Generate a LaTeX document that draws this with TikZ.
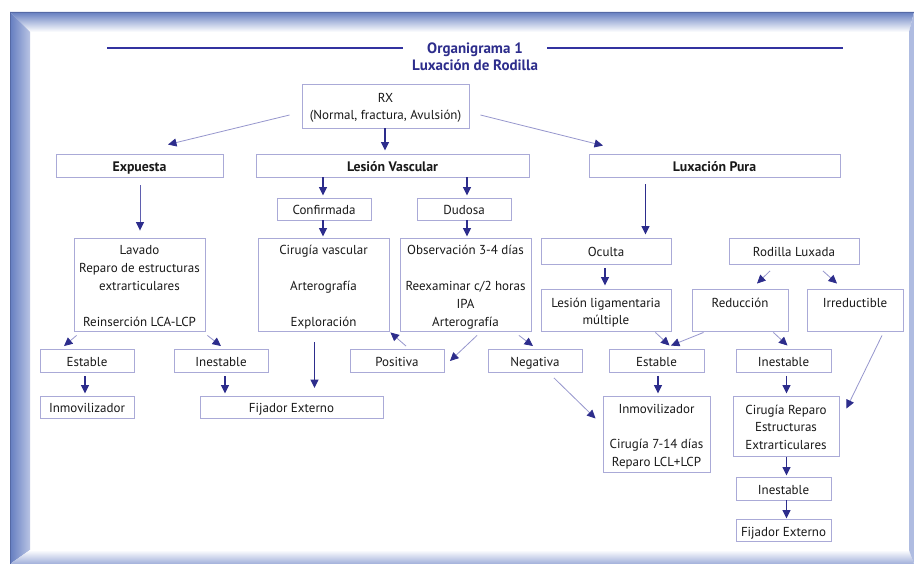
\documentclass[tikz,border=0pt]{standalone}
\usepackage{fontspec}
\setmainfont{PT Sans}
\usetikzlibrary{arrows.meta}
\definecolor{boxc}{RGB}{170,170,215}
\definecolor{dk}{RGB}{45,45,140}
\definecolor{lt}{RGB}{150,150,205}
\definecolor{md}{RGB}{95,95,175}
\definecolor{txt}{RGB}{25,25,25}
\definecolor{ttl}{RGB}{45,45,140}
\definecolor{ttlline}{RGB}{50,50,160}
\definecolor{frdark}{RGB}{100,125,192}
\definecolor{frmid}{RGB}{185,196,228}
\definecolor{frbot}{RGB}{160,175,218}
\definecolor{frright}{RGB}{175,188,225}
\definecolor{frline}{RGB}{85,105,165}
\newcommand\boxfont{\fontsize{13}{17.8}\selectfont}
\newcommand\boldfont{\fontsize{13.8}{17.8}\selectfont\bfseries}
\newcommand\toprl{\rule{0pt}{15.5pt}}
\newcommand\botrl{\rule[-3.5pt]{0pt}{0pt}}
\begin{document}
\begin{tikzpicture}[x=1pt,y=-1pt,
  bx/.style 2 args={draw=boxc, line width=0.9pt, inner sep=0pt, align=center,
     font=\boxfont, text=txt, minimum width=#1pt, minimum height=#2pt},
  bold/.style={font=\boldfont},
  tip/.style={-{Triangle[length=8.5pt,width=8pt,color=dk]}},
  dkarrow/.style={tip, draw=dk, line width=1.3pt},
  ltarrow/.style={tip, draw=lt, line width=0.8pt},
  mdarrow/.style={tip, draw=md, line width=0.8pt},
  ttlrule/.style={draw=ttlline, line width=1.2pt}]
\useasboundingbox (0,0) rectangle (914,564);
\fill[white] (0,0) rectangle (914,564);
% frame
\shade[top color=frdark, bottom color=white] (10,12) -- (914,12) -- (909,32) -- (30,32) -- cycle;
\shade[left color=frdark, right color=frmid] (10,12) -- (30,32) -- (30,550) -- (10,564) -- cycle;
\shade[top color=white, bottom color=frbot] (30,550) -- (909,550) -- (914,564) -- (10,564) -- cycle;
\fill[frright] (909,32) -- (914,12) -- (914,564) -- (909,550) -- cycle;
\draw[frline, line width=0.8pt] (10,564) -- (10,12) -- (914,12);
% title
\node[font=\fontsize{15}{17.5}\selectfont\bfseries, text=ttl, align=center, inner sep=0pt] (title) at (475,57) {Organigrama 1\\Luxación de Rodilla};
\coordinate (tl1) at (107,48);
\coordinate (tl2) at (403,48);
\coordinate (tr1) at (547,48);
\coordinate (tr2) at (843,48);
\draw[ttlrule] (tl1) -- (tl2);
\draw[ttlrule] (tr1) -- (tr2);
% nodes
\node[bx={167}{44}] (rx) at (385.5,106) {\toprl RX\\(Normal, fractura, Avulsión)\rule[-5.5pt]{0pt}{0pt}};
\node[bx={167}{23}, bold] (exp) at (139.5,165.5) {\toprl Expuesta\botrl};
\node[bx={273}{23}, bold] (lv) at (392.5,165.5) {\toprl Lesión Vascular\botrl};
\node[bx={251}{23}, bold] (lp) at (714.5,165.5) {\toprl Luxación Pura\botrl};
\node[bx={94}{22}] (conf) at (324,209) {\toprl Confirmada\botrl};
\node[bx={94}{22}] (dud) at (464,209) {\toprl Dudosa\botrl};
\node[bx={131}{93}] (lav) at (139.5,284.5) {\toprl Lavado\\Reparo de estructuras\\extrarticulares\\[17.8pt]Reinserción LCA-LCP\botrl};
\node[bx={131}{93}] (cv) at (323.5,284.5) {\toprl Cirugía vascular\\[17.8pt]Arterografía\\[17.8pt]Exploración\botrl};
\node[bx={131}{93}] (obs) at (465.5,284.5) {\toprl Observación 3-4 días\\[17.8pt]Reexaminar c/2 horas\\IPA\\Arterografía\botrl};
\node[bx={130}{26}] (ocu) at (606,251) {\toprl Oculta\botrl};
\node[bx={130}{26}] (rl) at (794,251) {\toprl Rodilla Luxada\botrl};
\node[bx={130}{42}] (lig) at (606,310) {\toprl Lesión ligamentaria\\múltiple\botrl};
\node[bx={96}{42}] (red) at (740,310) {\toprl Reducción\\\phantom{R}\botrl};
\node[bx={96}{42}] (irr) at (855,310) {\toprl Irreductible\\\phantom{R}\botrl};
\node[bx={94}{23}] (est1) at (87,360.5) {\toprl Estable\botrl};
\node[bx={94}{23}] (ine1) at (221,360.5) {\toprl Inestable\botrl};
\node[bx={94}{23}] (pos) at (397,360.5) {\toprl Positiva\botrl};
\node[bx={94}{23}] (neg) at (535,360.5) {\toprl Negativa\botrl};
\node[bx={95}{23}] (est2) at (656.5,360.5) {\toprl Estable\botrl};
\node[bx={95}{23}] (ine2) at (783.5,360.5) {\toprl Inestable\botrl};
\node[bx={94}{22}] (inm1) at (87,407) {\toprl Inmovilizador\botrl};
\node[bx={183}{22}] (fij1) at (291.5,407) {\toprl Fijador Externo\botrl};
\node[bx={107}{76}] (inm2) at (656.5,434) {\toprl Inmovilizador\\[17.8pt]Cirugía 7-14 días\\Reparo LCL+LCP\botrl};
\node[bx={106}{60}] (cir) at (786,426) {\toprl Cirugía Reparo\\Estructuras\\Extrarticulares\botrl};
\node[bx={95}{23}] (ine3) at (783.5,488.5) {\toprl Inestable\botrl};
\node[bx={95}{22}] (fij2) at (783.5,530) {\toprl Fijador Externo\botrl};
% connectors
\draw[ltarrow] ([shift={(-12,9)}]rx.west) -- ([shift={(28.5,-9)}]exp.north);
\draw[dkarrow] ([shift={(-0.5,0)}]rx.south) -- ([shift={(-7.5,-3)}]lv.north);
\draw[ltarrow] ([shift={(11,9)}]rx.east) -- ([shift={(-111.5,-8)}]lp.north);
\draw[dkarrow] ([shift={(-69.5,0)}]lv.south) -- ([shift={(-1,-2)}]conf.north);
\draw[dkarrow] ([shift={(74.5,0)}]lv.south) -- ([shift={(3,-2)}]dud.north);
\draw[mdarrow] ([shift={(0.5,8)}]exp.south) -- ([shift={(0.5,-7)}]lav.north);
\draw[dkarrow] ([shift={(-69,7)}]lp.south) -- ([shift={(39.5,-3)}]ocu.north);
\draw[dkarrow] ([shift={(-1,0)}]conf.south) -- ([shift={(-0.5,-1)}]cv.north);
\draw[dkarrow] ([shift={(3,0)}]dud.south) -- ([shift={(1.5,-1)}]obs.north);
\draw[dkarrow] ([shift={(-1,4)}]ocu.south) -- ([shift={(-1,-3)}]lig.north);
\draw[ltarrow] ([shift={(-24,6.5)}]rl.south) -- ([shift={(17,-5)}]red.north);
\draw[ltarrow] ([shift={(29,6.5)}]rl.south) -- ([shift={(-18,-5)}]irr.north);
\draw[ltarrow] ([shift={(3,4)}]lav.south west) -- ([shift={(-23,-2.5)}]est1.north);
\draw[ltarrow] ([shift={(2,4)}]lav.south east) -- ([shift={(0,-2.5)}]ine1.north);
\draw[dkarrow] ([shift={(-9,11)}]cv.south) -- ([shift={(23,-7.5)}]fij1.north);
\draw[ltarrow] ([shift={(9,-2.5)}]pos.north) -- ([shift={(1,1)}]cv.south east);
\draw[ltarrow] ([shift={(11.5,4)}]obs.south) -- ([shift={(5.5,0.5)}]pos.east);
\draw[ltarrow] ([shift={(-12.5,4)}]obs.south east) -- ([shift={(-2,-2.5)}]neg.north);
\draw[ltarrow] ([shift={(-16,1)}]lig.south east) -- ([shift={(13,-3)}]est2.north);
\draw[ltarrow] ([shift={(12,1)}]red.south west) -- ([shift={(-33.5,-3)}]est2.north east);
\draw[ltarrow] ([shift={(-15,1)}]red.south east) -- ([shift={(4,-3)}]ine2.north);
\draw[ltarrow] ([shift={(27,4)}]irr.south) -- ([shift={(7,-17.5)}]cir.east);
\draw[dkarrow] ([shift={(-2,4)}]est1.south) -- ([shift={(-2,-2)}]inm1.north);
\draw[dkarrow] ([shift={(4,4)}]ine1.south) -- ([shift={(-66.5,-2)}]fij1.north);
\draw[ltarrow] ([shift={(19,5.5)}]neg.south) -- ([shift={(-7,-15.5)}]inm2.west);
\draw[dkarrow] ([shift={(1.5,3.5)}]est2.south) -- ([shift={(1.5,-2)}]inm2.north);
\draw[dkarrow] ([shift={(3,3.5)}]ine2.south) -- ([shift={(0.5,-2)}]cir.north);
\draw[dkarrow] ([shift={(0.5,0.5)}]cir.south) -- ([shift={(3,-1)}]ine3.north);
\draw[dkarrow] ([shift={(3,0)}]ine3.south) -- ([shift={(3,0)}]fij2.north);
\end{tikzpicture}
\end{document}
